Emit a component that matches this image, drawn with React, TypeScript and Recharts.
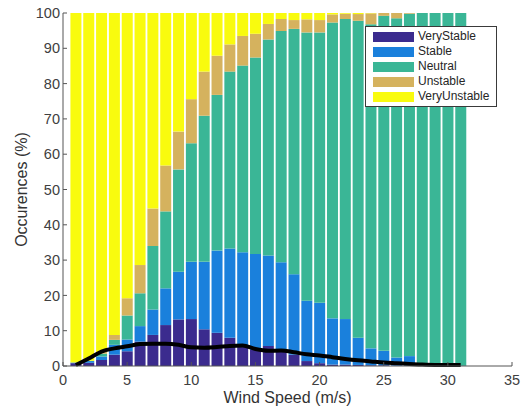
import React from 'react';
import { ComposedChart, Bar, Line, XAxis, YAxis, Legend, Label } from 'recharts';

const windSpeed = [1, 2, 3, 4, 5, 6, 7, 8, 9, 10, 11, 12, 13, 14, 15, 16, 17, 18, 19, 20, 21, 22, 23, 24, 25, 26, 27, 28, 29, 30, 31];
const veryStable = [0.8, 0.9, 1.7, 3.2, 4.2, 6.9, 8.8, 11.6, 13.2, 13.3, 10.4, 9.4, 8.0, 5.7, 4.5, 5.7, 4.3, 3.2, 1.4, 0.8, 0.4, 0.4, 0.3, 0.2, 0.2, 0.1, 0.1, 0, 0, 0, 0];
const stable = [0.2, 0.5, 1.0, 2.8, 3.3, 4.4, 7.2, 10.4, 13.5, 16.2, 19.1, 23.3, 25.3, 26.5, 27.2, 25.6, 25.1, 22.8, 17.1, 17.1, 13.1, 12.9, 7.7, 4.8, 4.1, 2.3, 2.7, 0.3, 0.2, 0.2, 0.1];
const neutral = [0, 0.1, 0.8, 1.4, 6.8, 9.3, 18.0, 21.8, 29.0, 33.6, 41.4, 44.1, 50.1, 52.9, 55.7, 61.2, 65.5, 69.5, 76.0, 76.6, 83.8, 85.0, 89.8, 91.8, 94.9, 96.1, 97.0, 99.7, 99.8, 99.8, 99.9];
const unstable = [0, 0, 0.5, 1.4, 4.9, 8.0, 10.6, 13.0, 10.7, 12.5, 12.5, 11.1, 7.7, 8.4, 6.7, 4.4, 3.4, 2.5, 3.7, 3.5, 2.3, 1.5, 1.9, 3.1, 0.8, 1.5, 0.2, 0, 0, 0, 0];
const veryUnstable = [99.0, 98.5, 96.0, 91.2, 80.8, 71.4, 55.4, 43.2, 33.6, 24.4, 16.6, 12.1, 8.9, 6.5, 5.9, 3.1, 1.7, 2.0, 1.8, 2.0, 0.4, 0.2, 0.3, 0.1, 0, 0, 0, 0, 0, 0, 0];
const occurrence = [0.3, 2.1, 4.1, 5.0, 5.6, 6.2, 6.3, 6.3, 6.0, 5.3, 5.2, 5.4, 5.7, 5.8, 4.8, 4.3, 4.4, 3.9, 3.3, 3.0, 2.5, 2.0, 1.6, 1.3, 1.0, 0.8, 0.6, 0.4, 0.3, 0.3, 0.3];

const xTicks = [0, 5, 10, 15, 20, 25, 30, 35];
const yTicks = [0, 10, 20, 30, 40, 50, 60, 70, 80, 90, 100];

const seriesNames = ['VeryStable', 'Stable', 'Neutral', 'Unstable', 'VeryUnstable'];
const seriesColors = ['#3b2b8e', '#1a80dc', '#3ab696', '#d5b25e', '#f9fb0e'];
const seriesValues = [veryStable, stable, neutral, unstable, veryUnstable];

const data = windSpeed.map((ws, i) => {
  const row: Record<string, number> = { ws, occurrence: occurrence[i] };
  seriesNames.forEach((n, j) => {
    row[n] = seriesValues[j][i];
  });
  return row;
});

const FONT = '"Liberation Sans", Arial, Helvetica, sans-serif';
const AXIS = '#555555';
const TXT = '#404040';

const LegendBox = () => (
  <div
    style={{
      border: '1px solid #3a3a3a',
      background: '#ffffff',
      padding: '2px 4px 2px 7px',
      width: 132,
      boxSizing: 'border-box',
      fontFamily: FONT,
      fontSize: 12,
      color: '#262626',
    }}
  >
    {seriesNames.map((n, i) => (
      <div key={n} style={{ display: 'flex', alignItems: 'center', height: 15 }}>
        <span style={{ display: 'inline-block', width: 41, height: 10, background: seriesColors[i], marginRight: 4 }} />
        <span style={{ lineHeight: '15px' }}>{n}</span>
      </div>
    ))}
  </div>
);

export default function App() {
  return (
    <div style={{ position: 'absolute', left: 0, top: 0, width: 528, height: 406, background: '#fff' }}>
      <ComposedChart
        width={528}
        height={406}
        data={data}
        margin={{ top: 13, right: 16, left: 0, bottom: 0 }}
      >
        <XAxis
          dataKey="ws"
          type="number"
          domain={[0, 35]}
          ticks={xTicks}
          interval={0}
          allowDataOverflow
          height={40}
          tickSize={-4}
          tickMargin={13}
          stroke={AXIS}
          tick={{ fill: TXT, fontSize: 14.5, fontFamily: FONT }}
        >
          <Label
            value="Wind Speed (m/s)"
            position="insideBottom"
            offset={3}
            style={{ fill: '#333', fontSize: 16, fontFamily: FONT }}
          />
        </XAxis>
        <XAxis
          xAxisId="top"
          orientation="top"
          type="number"
          domain={[0, 35]}
          ticks={xTicks}
          height={0}
          tick={false}
          tickSize={-4}
          stroke={AXIS}
        />
        <YAxis
          type="number"
          domain={[0, 100]}
          ticks={yTicks}
          interval={0}
          width={63}
          tickSize={-4}
          tickMargin={7}
          stroke={AXIS}
          tick={{ fill: TXT, fontSize: 14.5, fontFamily: FONT }}
        >
          <Label
            value="Occurences (%)"
            angle={-90}
            position="insideLeft"
            offset={21}
            style={{ textAnchor: 'middle', fill: '#333', fontSize: 16, fontFamily: FONT }}
          />
        </YAxis>
        <YAxis
          yAxisId="right"
          orientation="right"
          type="number"
          domain={[0, 100]}
          ticks={yTicks}
          width={0}
          tick={false}
          tickSize={-4}
          stroke={AXIS}
        />
        <Legend
          layout="vertical"
          align="center"
          verticalAlign="middle"
          wrapperStyle={{ top: 26, left: 365, width: 132, bottom: 'auto', right: 'auto' }}
          content={() => <LegendBox />}
        />
        {seriesNames.map((n, i) => (
          <Bar
            key={n}
            dataKey={n}
            name={n}
            stackId="s"
            fill={seriesColors[i]}
            barSize={11}
            isAnimationActive={false}
          />
        ))}
        <Line
          dataKey="occurrence"
          type="monotone"
          stroke="#000"
          strokeWidth={4}
          dot={false}
          legendType="none"
          isAnimationActive={false}
        />
      </ComposedChart>
    </div>
  );
}
